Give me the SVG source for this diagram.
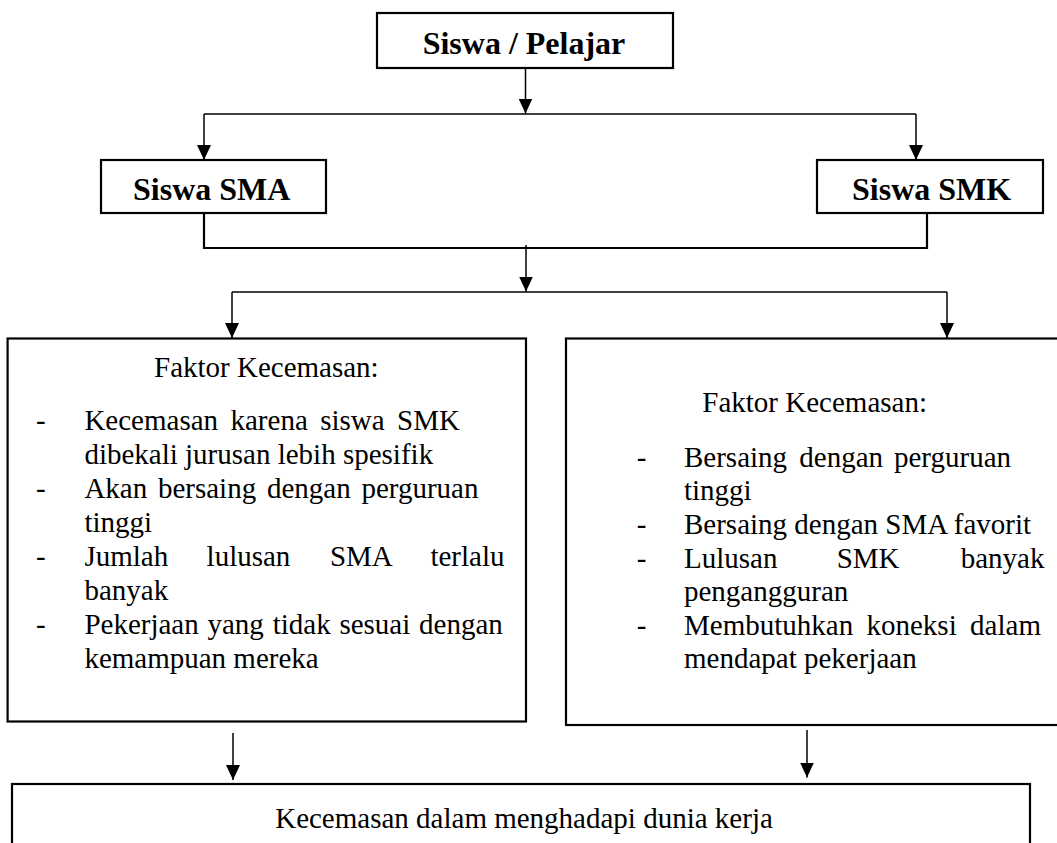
<svg xmlns="http://www.w3.org/2000/svg" width="1057" height="843" viewBox="0 0 1057 843">
<style>
  .box { fill: #ffffff; stroke: #000000; stroke-width: 2.2; }
  .ln { fill: none; stroke: #000000; stroke-width: 1.3; }
  .thick { fill: none; stroke: #000000; stroke-width: 2.2; }
  .arr { fill: none; stroke: #000000; stroke-width: 1.5; marker-end: url(#ah); }
  .title { font-family: "Liberation Serif", "Times New Roman", serif; font-weight: bold; font-size: 32px; fill: #000000; }
  .body { font-family: "Liberation Serif", "Times New Roman", serif; font-size: 29px; fill: #000000; }
</style>
<defs>
  <marker id="ah" markerUnits="userSpaceOnUse" markerWidth="15" markerHeight="14" refX="15" refY="7" orient="auto">
    <path d="M0,0 L15,7 L0,14 z" fill="#000000"/>
  </marker>
</defs>
<rect width="1057" height="843" fill="#ffffff"/>

<g id="connectors">
  <line class="arr" x1="525.5" y1="68" x2="525.5" y2="113.5"/>
  <line class="ln" x1="204" y1="114" x2="916" y2="114"/>
  <line class="arr" x1="204" y1="114" x2="204" y2="160"/>
  <line class="arr" x1="916" y1="114" x2="916" y2="160"/>
  <polyline class="thick" points="204,213 204,248 927,248 927,213"/>
  <line class="arr" x1="526" y1="245" x2="526" y2="291.5"/>
  <line class="ln" x1="232" y1="292" x2="947" y2="292"/>
  <line class="arr" x1="232" y1="292" x2="232" y2="338"/>
  <line class="arr" x1="947" y1="292" x2="947" y2="338"/>
  <line class="arr" x1="233" y1="733" x2="233" y2="780"/>
  <line class="arr" x1="807" y1="730" x2="807" y2="777.5"/>
</g>

<g id="node-siswa-pelajar">
  <rect class="box" x="377" y="13" width="296" height="55"/>
  <text class="title" x="524" y="54" text-anchor="middle">Siswa / Pelajar</text>
</g>

<g id="node-siswa-sma">
  <rect class="box" x="101" y="160" width="225" height="53"/>
  <text class="title" x="133" y="200">Siswa SMA</text>
</g>

<g id="node-siswa-smk">
  <rect class="box" x="817" y="160" width="226" height="53"/>
  <text class="title" x="852" y="200">Siswa SMK</text>
</g>

<g id="node-faktor-sma">
  <rect class="box" x="7.6" y="338.5" width="518.4" height="383"/>
  <text class="body" x="154" y="377">Faktor Kecemasan:</text>
  <text class="body" x="36" y="430">-</text>
  <text class="body" y="430"><tspan x="84.4">Kecemasan</tspan><tspan x="230.5">karena</tspan><tspan x="320.2">siswa</tspan><tspan x="397">SMK</tspan></text>
  <text class="body" x="84.4" y="464">dibekali jurusan lebih spesifik</text>
  <text class="body" x="36" y="498">-</text>
  <text class="body" y="498"><tspan x="84.4">Akan</tspan><tspan x="157.9">bersaing</tspan><tspan x="266.9">dengan</tspan><tspan x="361.4">perguruan</tspan></text>
  <text class="body" x="84.4" y="532">tinggi</text>
  <text class="body" x="36" y="566">-</text>
  <text class="body" y="566"><tspan x="84.4">Jumlah</tspan><tspan x="206.6">lulusan</tspan><tspan x="329.9">SMA</tspan><tspan x="430.4">terlalu</tspan></text>
  <text class="body" x="84.4" y="600">banyak</text>
  <text class="body" x="36" y="634">-</text>
  <text class="body" y="634"><tspan x="84.4">Pekerjaan</tspan><tspan x="207.5">yang</tspan><tspan x="272.7">tidak</tspan><tspan x="339.4">sesuai</tspan><tspan x="419.1">dengan</tspan></text>
  <text class="body" x="84.4" y="668">kemampuan mereka</text>
</g>

<g id="node-faktor-smk">
  <rect class="box" x="566" y="338.5" width="520" height="386.5"/>
  <text class="body" x="702.3" y="411.7">Faktor Kecemasan:</text>
  <text class="body" x="636.7" y="466.7">-</text>
  <text class="body" y="466.7"><tspan x="684">Bersaing</tspan><tspan x="799.3">dengan</tspan><tspan x="894">perguruan</tspan></text>
  <text class="body" x="684" y="500.3">tinggi</text>
  <text class="body" x="636.7" y="533.9">-</text>
  <text class="body" x="684" y="533.9">Bersaing dengan SMA favorit</text>
  <text class="body" x="636.7" y="567.5">-</text>
  <text class="body" y="567.5"><tspan x="684">Lulusan</tspan><tspan x="836.7">SMK</tspan><tspan x="960.7">banyak</tspan></text>
  <text class="body" x="684" y="601.1">pengangguran</text>
  <text class="body" x="636.7" y="634.7">-</text>
  <text class="body" y="634.7"><tspan x="684">Membutuhkan</tspan><tspan x="866.5">koneksi</tspan><tspan x="970.1">dalam</tspan></text>
  <text class="body" x="684" y="668.3">mendapat pekerjaan</text>
</g>

<g id="node-kecemasan-kerja">
  <rect class="box" x="12" y="784" width="1018" height="80"/>
  <text class="body" x="524" y="828.3" text-anchor="middle">Kecemasan dalam menghadapi dunia kerja</text>
</g>
</svg>
